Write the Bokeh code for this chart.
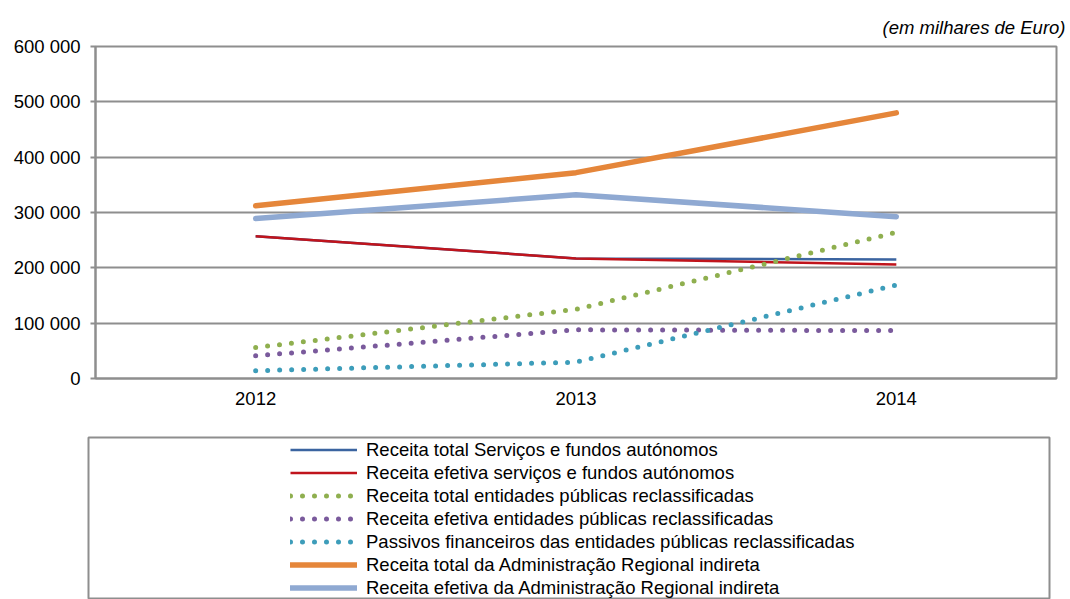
from bokeh.plotting import figure
from bokeh.layouts import column
from bokeh.models import FactorRange, Range1d, FixedTicker, Legend, LegendItem, Title
from bokeh.embed import file_html
from bokeh.resources import INLINE

years = ["2012", "2013", "2014"]
total_sfa = [257000, 217000, 215000]
efetiva_sfa = [257000, 217000, 206000]
total_epr = [56000, 125000, 264000]
efetiva_epr = [41000, 88000, 86500]
passivos_epr = [14000, 29500, 169000]
total_ari = [312000, 372000, 480000]
efetiva_ari = [289000, 332000, 292500]

series_names = [
    "Receita total Serviços e fundos autónomos",
    "Receita efetiva serviços e fundos autónomos",
    "Receita total entidades públicas reclassificadas",
    "Receita efetiva entidades públicas reclassificadas",
    "Passivos financeiros das entidades públicas reclassificadas",
    "Receita total da Administração Regional indireta",
    "Receita efetiva da Administração Regional indireta",
]
y_ticks = [0, 100000, 200000, 300000, 400000, 500000, 600000]
y_tick_labels = ["0", "100 000", "200 000", "300 000", "400 000", "500 000", "600 000"]
unit_note = "(em milhares de Euro)"

FONT = "Liberation Sans"
GRAY = "#8e8e8e"
FS = "18.5px"

p = figure(width=1070, height=436,
           x_range=FactorRange(*years, range_padding=0),
           y_range=Range1d(0, 600000),
           output_backend="svg", toolbar_location=None,
           min_border_left=95, min_border_right=14,
           min_border_top=46, min_border_bottom=58)
p.frame_align = False

p.background_fill_color = "white"
p.border_fill_color = "white"
p.outline_line_color = GRAY
p.outline_line_width = 2

p.xgrid.grid_line_color = None
p.ygrid.grid_line_color = GRAY
p.ygrid.grid_line_width = 2

p.yaxis.ticker = FixedTicker(ticks=y_ticks)
p.yaxis.major_label_overrides = {t: l for t, l in zip(y_ticks, y_tick_labels)}
p.yaxis.minor_tick_line_color = None
p.yaxis.major_tick_out = 5
p.yaxis.major_tick_in = 0
p.yaxis.major_label_standoff = 10
for ax in (p.xaxis, p.yaxis):
    ax.axis_line_color = GRAY
    ax.axis_line_width = 2
    ax.major_tick_line_color = GRAY
    ax.major_tick_line_width = 2
    ax.major_label_text_font = FONT
    ax.major_label_text_font_size = FS
    ax.major_label_text_color = "black"
p.xaxis.major_tick_out = 0
p.xaxis.major_tick_in = 0
p.xaxis.major_label_standoff = 13

note = Title(text=unit_note, align="right", offset=-9, standoff=17,
             text_font=FONT, text_font_size=FS, text_font_style="italic",
             text_color="black")
p.add_layout(note, "above")

styles = [
    dict(color="#3B64A0", line_width=2.5),
    dict(color="#C0141C", line_width=2.5),
    dict(color="#8FAF4F", line_width=5, line_dash="0 12", line_cap="round"),
    dict(color="#7A5A9C", line_width=5, line_dash="0 12", line_cap="round"),
    dict(color="#3D9DBA", line_width=5, line_dash="0 12", line_cap="round"),
    dict(color="#E5863A", line_width=5.5, line_cap="round"),
    dict(color="#8FA9D2", line_width=5.5, line_cap="round"),
]
data = [total_sfa, efetiva_sfa, total_epr, efetiva_epr, passivos_epr, total_ari, efetiva_ari]

# legend panel (its frame is the legend box)
q = figure(width=1070, height=163,
           x_range=FactorRange(*years, range_padding=0),
           y_range=Range1d(0, 600000),
           output_backend="svg", toolbar_location=None,
           x_axis_location=None, y_axis_location=None,
           min_border_left=88, min_border_right=21,
           min_border_top=1, min_border_bottom=0)
q.frame_align = False
q.background_fill_color = "white"
q.border_fill_color = "white"
q.outline_line_color = GRAY
q.outline_line_width = 2
q.xgrid.grid_line_color = None
q.ygrid.grid_line_color = None

items = []
for name, vals, st in zip(series_names, data, styles):
    kw = dict(line_color=st["color"], line_width=st["line_width"],
              line_dash=st.get("line_dash", "solid"), line_cap=st.get("line_cap", "butt"),
              line_join="round")
    p.line(years, vals, **kw)
    r = q.line(years, vals, visible=False, **kw)
    items.append(LegendItem(label=name, renderers=[r]))

legend = Legend(items=items, location=(202, 0),
                border_line_alpha=0, background_fill_alpha=0,
                padding=0, margin=0, spacing=0,
                glyph_width=67, glyph_height=23, label_height=23,
                label_standoff=9, label_text_font=FONT,
                label_text_font_size=FS, label_text_color="black")
q.add_layout(legend)

layout = column(p, q, spacing=0)
open("out.html", "w").write(file_html(layout, INLINE))
